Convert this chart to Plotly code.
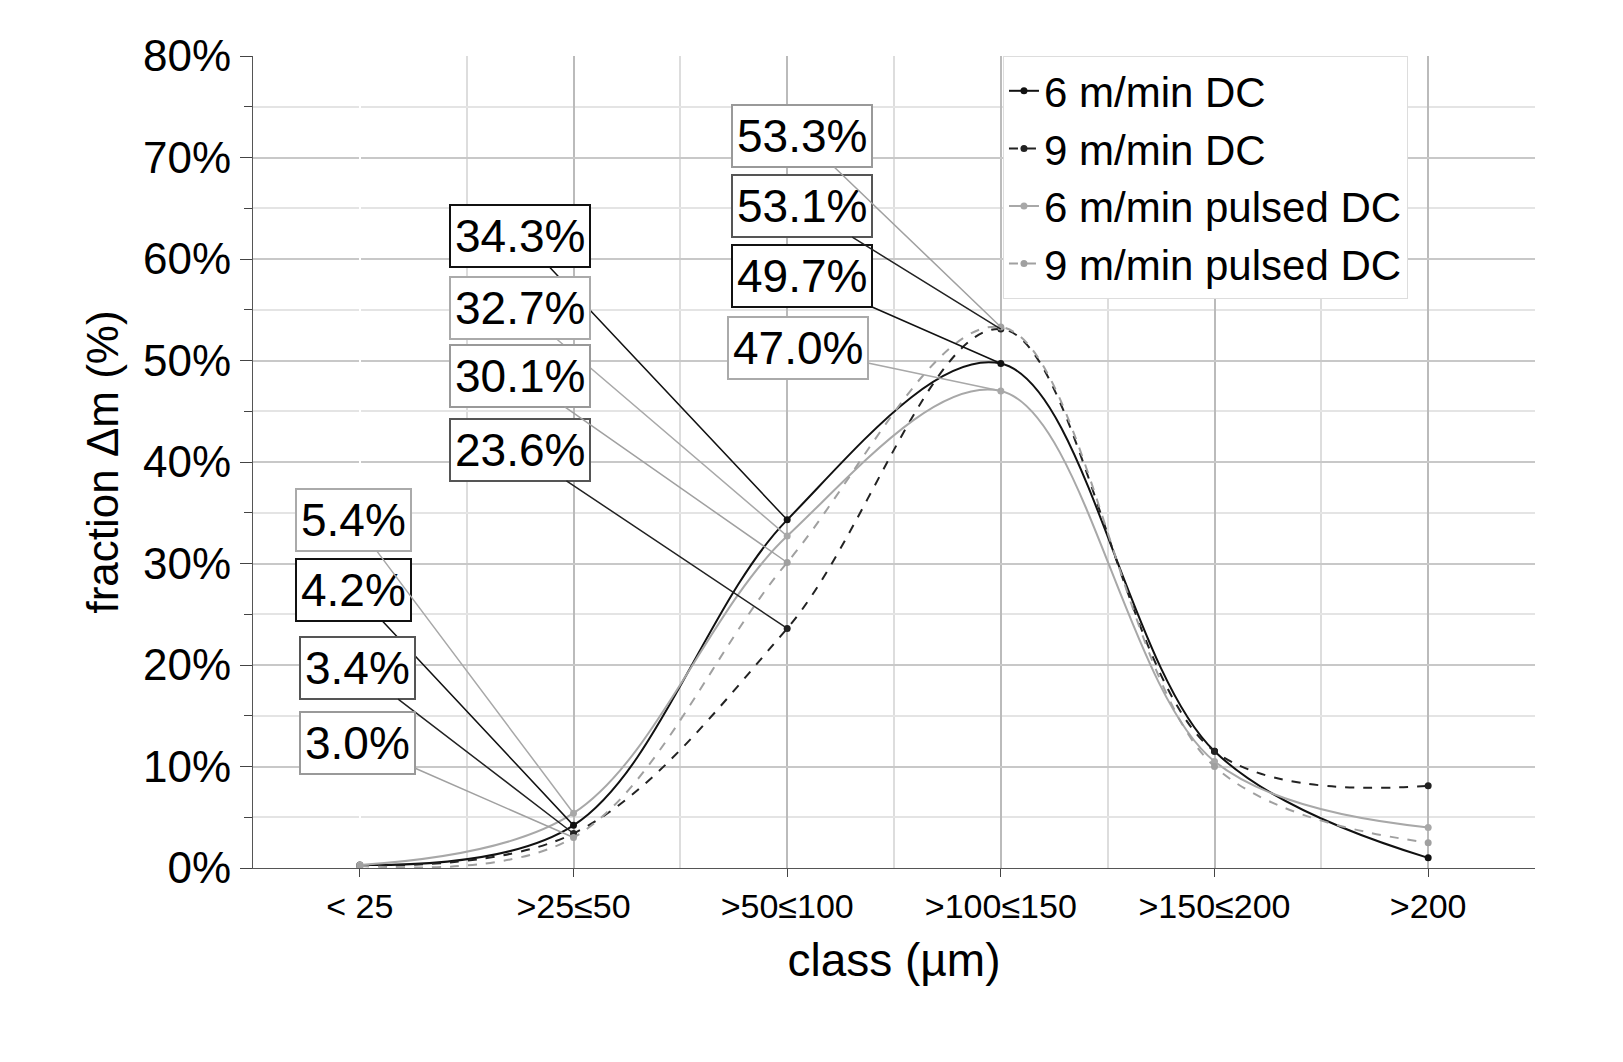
import plotly.graph_objects as go

classes = ["< 25", ">25≤50", ">50≤100", ">100≤150", ">150≤200", ">200"]
dc6 = [0.003, 0.042, 0.343, 0.497, 0.115, 0.010]
dc9 = [0.002, 0.034, 0.236, 0.531, 0.115, 0.081]
pdc6 = [0.003, 0.054, 0.327, 0.470, 0.105, 0.040]
pdc9 = [0.002, 0.030, 0.301, 0.533, 0.100, 0.025]

names = ["6 m/min DC", "9 m/min DC", "6 m/min pulsed DC", "9 m/min pulsed DC"]
series = [dc6, dc9, pdc6, pdc9]
colors = ["#111111", "#222222", "#a8a8a8", "#a0a0a0"]
dashes = ["solid", "dash", "solid", "dash"]

# label box positions (category index, y) for the points at classes 1..3
label_pos = {
    (0, 1): (-0.03, 0.274), (1, 1): (-0.01, 0.197), (2, 1): (-0.03, 0.343), (3, 1): (-0.01, 0.123),
    (0, 2): (0.75, 0.623), (1, 2): (0.75, 0.412), (2, 2): (0.75, 0.552), (3, 2): (0.75, 0.485),
    (0, 3): (2.07, 0.583), (1, 3): (2.07, 0.652), (2, 3): (2.05, 0.512), (3, 3): (2.07, 0.721),
}
box_colors = ["#111111", "#555555", "#aaaaaa", "#999999"]

x = list(range(len(classes)))
fig = go.Figure()
for n, s, c, d in zip(names, series, colors, dashes):
    fig.add_scatter(x=x, y=s, name=n, mode="lines+markers", line=dict(color=c, dash=d, width=2, shape="spline", smoothing=1.0),
                    marker=dict(size=7, color=c))

for (i, k), (ax, ay) in label_pos.items():
    fig.add_annotation(x=k, y=series[i][k], ax=ax, ay=ay, axref="x", ayref="y", xref="x", yref="y",
                       text=f"{series[i][k]*100:.1f}%", showarrow=True, arrowhead=0, arrowwidth=1.5,
                       arrowcolor=colors[i], font=dict(size=46, color="black", family="Liberation Sans"),
                       bgcolor="white", bordercolor=box_colors[i], borderwidth=2, borderpad=4)

fig.update_layout(
    width=1623, height=1062, plot_bgcolor="white", paper_bgcolor="white",
    margin=dict(l=245, r=96, t=48, b=202),
    font=dict(family="Liberation Sans", color="black"),
    legend=dict(x=0.585, y=1.0, xanchor="left", yanchor="top", font=dict(size=42),
                bgcolor="white", bordercolor="#dddddd", borderwidth=1, tracegroupgap=0),
    xaxis=dict(range=[-0.5, 5.5], tickvals=x, ticktext=classes, tickfont=dict(size=34),
               showgrid=True, gridcolor="#bbbbbb", gridwidth=1.5,
               minor=dict(tickvals=[i + 0.5 for i in range(-1, 6)], showgrid=True, gridcolor="#dddddd"),
               linecolor="#555555", showline=True, ticks="outside", ticklen=8,
               title=dict(text="class (µm)", font=dict(size=46), standoff=20)),
    yaxis=dict(range=[0, 0.8], dtick=0.1, tickformat=".0%", tickfont=dict(size=44),
               showgrid=True, gridcolor="#c8c8c8", gridwidth=1.5,
               minor=dict(dtick=0.05, showgrid=True, gridcolor="#e4e4e4", ticks="outside", ticklen=8),
               linecolor="#555555", showline=True, ticks="outside", ticklen=12, zeroline=False,
               title=dict(text="fraction Δm (%)", font=dict(size=44), standoff=10)),
)
fig.write_html("out.html")
